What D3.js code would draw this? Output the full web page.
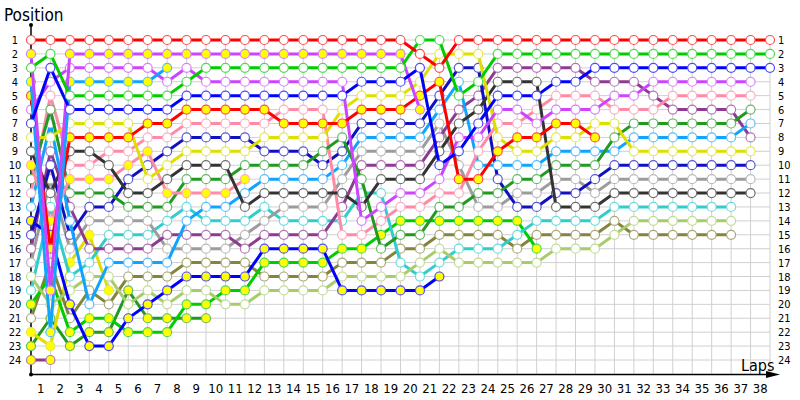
<!DOCTYPE html>
<html>
<head>
<meta charset="utf-8">
<script src="https://cdn.jsdelivr.net/npm/d3@7/dist/d3.min.js"></script>
<style>
  body { margin: 0; background: #fff; }
  svg { display: block; font-family: "DejaVu Sans Condensed", "Liberation Sans", sans-serif; }
</style>
</head>
<body>
<svg id="svg" width="800" height="400"></svg>
<script>
// lap numbers shown under the x axis, positions on both sides
const lapLabels = [1,2,3,4,5,6,7,8,9,10,11,12,13,14,15,16,17,18,19,20,21,22,23,24,25,26,27,28,29,30,31,32,33,34,35,36,37,38];
const positionLabels = [1,2,3,4,5,6,7,8,9,10,11,12,13,14,15,16,17,18,19,20,21,22,23,24];

// position of each car, index = lap (0 = grid)
const redW = [1,1,1,1,1,1,1,1,1,1, 1,1,1,1,1,1,1,1,1,1, 2,3,1,1,1,1,1,1,1,1, 1,1,1,1,1,1,1,1,1];
const greenW = [3,2,5,5,5,5,5,5,4,3, 3,3,3,3,3,3,3,3,3,3, 1,1,5,4,2,2,2,2,2,2, 2,2,2,2,2,2,2,2,2];
const blueW = [7,3,6,6,6,6,6,6,5,5, 5,5,5,5,5,5,5,4,4,4, 3,10,9,7,5,5,5,4,4,3, 3,3,3,3,3,3,3,3,3];
const violetY = [2,19,2,2,2,2,2,2,2,2, 2,2,2,2,2,2,2,2,2,2, 6];
const lightBlueY = [4,22,4,4,4,4,4,3];
const redY = [5,16,8,8,8,8,7,7,6,6, 6,6,6,7,7,7,7,6,6,6, 5,4,11,11,9,8,8,7,7,8];
const violetW = [6,4,3,3,3,3,3,4,3,4, 4,4,4,4,4,4,4,14,13,12, 12,11,8,8,6,6,7,6,6,6, 5,5,4,4,4,4,4,4];
const yellowW = [8,8,7,7,7,7,11,10,9,9, 9,9,8,8,8,8,6,5,5,5, 4,2,2,2,8,9,9,8,8,7, 7,9,9,9,9,9,9,9];
const darkGrayW = [9,12,9,9,10,12,12,11,10,10, 10,13,12,12,12,12,12,13,11,11, 11,9,7,6,4,4,4,13,13,13, 12,12,12,12,12,12,12,12];
const pinkY = [10,14,11,11,11,10,9,12,12,12, 12,11];
const forestW = [11,6,12,12,12,13,13,13,11,11, 11,10,10,10,10,9,8,11,16,15, 15,13,13,12,12,11,11,10,10,10, 8,7,7,7,7,7,7,6];
const pinkW = [12,5,10,10,9,9,8,8,7,7, 7,7,7,6,6,6,15,15,14,13, 13,12,12,9,7,7,6,5,5,5, 6,6,6,5,5,5,5,5];
const lightBlueW = [13,7,14,20,17,17,17,17,14,13, 13,12,11,11,11,11,10,8,8,8, 8,6,4,10,10,10,10,9,9,9, 9,8,8,8,8,8,8,7];
const darkBlueW = [15,10,15,13,13,11,10,9,8,8, 8,8,9,9,9,10,9,7,7,7, 7,5,3,3,11,13,13,12,12,11, 10,10,10,10,10,10,10,10];
const blueY = [14,15,20,23,23,21,20,19,18,18, 18,18,16,16,16,16,19,19,19,19, 19,18];
const purpleW = [16,9,13,16,16,16,16,15,15,15, 15,16,15,15,15,15,13,10,10,10, 10,8,6,5,3,3,3,3,3,4, 4,4,5,6,6,6,6,8];
const grayW = [17,11,16,14,14,14,14,16,16,16, 16,15,14,13,13,13,11,9,9,9, 9,7,10,13,13,12,12,11,11,12, 11,11,11,11,11,11,11,11];
const lightGreenW = [18,20,19,18,18,20,19,20,19,19, 20,20,19,19,19,19,18,18,18,18, 17,16,17,17,17,17,17,16,16,16, 15,14,14,14,14,14,14];
const cyanW = [19,13,18,17,15,15,15,14,13,14, 14,14,13,14,14,14,14,12,12,17, 18,17,16,16,16,15,14,14,14,14, 13,13,13,13,13,13,13];
const greenY = [20,18,22,21,21,22,22,22,20,20, 19,19,17,17,17,17,16,16,15,14, 14,14,14,14,14,14,16];
const oliveW = [21,17,21,19,20,18,18,18,17,17, 17,17,18,18,18,18,17,17,17,16, 16,15,15,15,15,16,15,15,15,15, 14,15,15,15,15,15,15];
const yellowY = [22,23,17,15,19];
const forestY = [23,21,23,22,22,19,21,21,21,21];
const purpleY = [24,24];

let drivers = [
  { pos: purpleY, color: "#8e3a92", fill: "#ffff00" },
  { pos: forestY, color: "#229a22", fill: "#ffff00" },
  { pos: yellowY, color: "#dede00", fill: "#ffff00" },
  { pos: oliveW, color: "#84843c", fill: "#fff" },
  { pos: greenY, color: "#00cc00", fill: "#ffff00" },
  { pos: cyanW, color: "#33cccc", fill: "#fff" },
  { pos: lightGreenW, color: "#a8cc6a", fill: "#fff" },
  { pos: grayW, color: "#9c9c9c", fill: "#fff" },
  { pos: purpleW, color: "#8e3a92", fill: "#fff" },
  { pos: blueY, color: "#0000ff", fill: "#ffff00" },
  { pos: darkBlueW, color: "#1010c0", fill: "#fff" },
  { pos: lightBlueW, color: "#10a4ff", fill: "#fff" },
  { pos: pinkW, color: "#ff8aa8", fill: "#fff" },
  { pos: forestW, color: "#229a22", fill: "#fff" },
  { pos: pinkY, color: "#ff8aa8", fill: "#ffff00" },
  { pos: darkGrayW, color: "#333333", fill: "#fff" },
  { pos: yellowW, color: "#dede00", fill: "#fff" },
  { pos: violetW, color: "#cc44ff", fill: "#fff" },
  { pos: redY, color: "#ff0000", fill: "#ffff00" },
  { pos: lightBlueY, color: "#10a4ff", fill: "#ffff00" },
  { pos: violetY, color: "#cc44ff", fill: "#ffff00" },
  { pos: blueW, color: "#0000ff", fill: "#fff" },
  { pos: greenW, color: "#00cc00", fill: "#fff" },
  { pos: redW, color: "#ff0000", fill: "#fff" }
];

let svg = d3.select("svg");
let x = d3.scaleLinear().domain([0, 38]).range([31, 770]);
let y = d3.scaleLinear().domain([1, 24]).range([40, 360]);
let axisY = y(25.05);

let g = svg.append("g");

// grid
g.append("g").selectAll("line")
  .data(d3.range(0, 39))
  .enter().append("line")
    .attr("x1", d => x(d)).attr("x2", d => x(d))
    .attr("y1", y(1)).attr("y2", axisY)
    .attr("stroke", "#d0d0d0").attr("stroke-width", 1);
g.append("g").selectAll("line")
  .data(positionLabels)
  .enter().append("line")
    .attr("x1", x(0)).attr("x2", x(38))
    .attr("y1", d => y(d)).attr("y2", d => y(d))
    .attr("stroke", "#d0d0d0").attr("stroke-width", 1);

// axes
g.append("line")
  .attr("x1", x(0)).attr("x2", x(0))
  .attr("y1", 25).attr("y2", axisY)
  .attr("stroke", "#000").attr("stroke-width", 1.5);
g.append("circle").attr("cx", x(0)).attr("cy", 25).attr("r", 2).attr("fill", "#000");
g.append("circle").attr("cx", x(0)).attr("cy", axisY).attr("r", 2).attr("fill", "#000");
g.append("line")
  .attr("x1", x(0)).attr("x2", 772)
  .attr("y1", axisY).attr("y2", axisY)
  .attr("stroke", "#000").attr("stroke-width", 1.5);
g.append("path")
  .attr("d", "M766," + (axisY - 3.5) + "L780," + axisY + "L766," + (axisY + 3.5) + "Z")
  .attr("fill", "#000");

g.append("g").selectAll("text")
  .data(lapLabels)
  .enter().append("text")
    .attr("x", d => x(d) - (x(1) - x(0)) / 2)
    .attr("y", 393)
    .attr("text-anchor", "middle")
    .attr("font-size", 13)
    .text(d => d);

g.append("g").selectAll("text")
  .data(positionLabels)
  .enter().append("text")
    .attr("x", 15)
    .attr("y", d => y(d) + 4)
    .attr("text-anchor", "middle")
    .attr("font-size", 11)
    .text(d => d);
g.append("g").selectAll("text")
  .data(positionLabels)
  .enter().append("text")
    .attr("x", 778)
    .attr("y", d => y(d) + 4)
    .attr("font-size", 11)
    .text(d => d);

g.append("text").attr("x", 4).attr("y", 21).attr("font-size", 17).text("Position");
g.append("text").attr("x", 741).attr("y", 371).attr("font-size", 16).text("Laps");

let line = d3.line()
  .defined(d => d != null)
  .x((d, i) => x(i))
  .y(d => y(d));

drivers.forEach(dr => {
  let rim = d3.interpolateRgb(dr.color, "#ffffff")(0.3);
  g.append("path")
   .datum(dr.pos)
   .attr("fill", "none")
   .attr("stroke", dr.color)
   .attr("stroke-width", 3)
   .attr("stroke-linejoin", "round")
   .attr("d", line);
  g.append("g").selectAll("circle")
   .data(dr.pos.map((p, i) => ({ lap: i, p })))
   .enter().append("circle")
     .attr("cx", d => x(d.lap))
     .attr("cy", d => y(d.p))
     .attr("r", 4.5)
     .attr("fill", dr.fill)
     .attr("stroke", rim)
     .attr("stroke-width", 1.2);
});
</script>
</body>
</html>
